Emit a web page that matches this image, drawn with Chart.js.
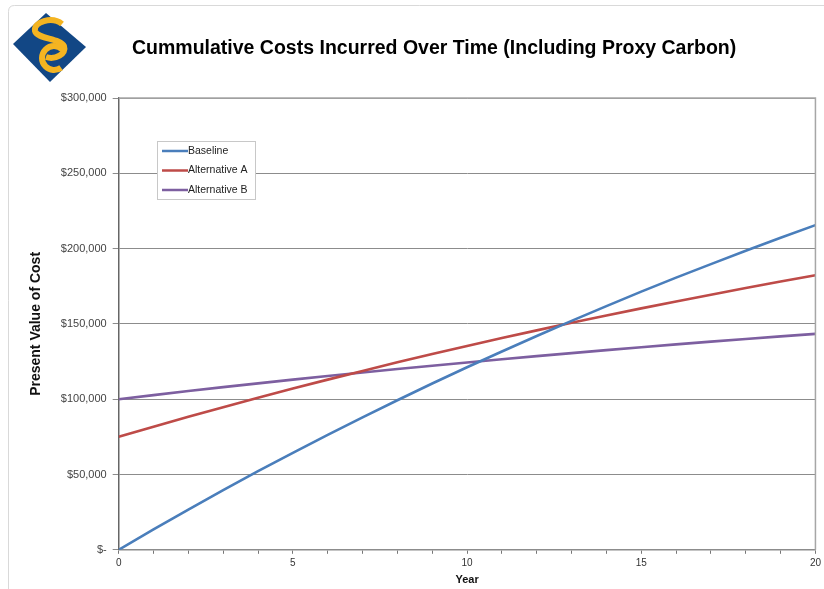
<!DOCTYPE html>
<html>
<head>
<meta charset="utf-8">
<script src="https://cdn.jsdelivr.net/npm/chart.js@4.4.1/dist/chart.umd.min.js"></script>
<style>
  html, body { margin: 0; padding: 0; background: #ffffff; }
  #wrap { width: 824px; height: 589px; position: relative; }
</style>
</head>
<body>
<div id="wrap"><canvas id="c" width="824" height="589"></canvas></div>
<script>
const titleText = 'Cummulative Costs Incurred Over Time (Including Proxy Carbon)';
const yTitle = 'Present Value of Cost';
const xTitle = 'Year';
const years = [0, 1, 2, 3, 4, 5, 6, 7, 8, 9, 10, 11, 12, 13, 14, 15, 16, 17, 18, 19, 20];
const baseline = [0, 13500, 26700, 39600, 52200, 64400, 76300, 87900, 99300, 110400, 121200, 131700, 142000, 152000, 161800, 171400, 180700, 189700, 198600, 207200, 215600];
const altA = [75000, 81700, 88300, 94700, 101000, 107100, 113000, 118800, 124500, 130000, 135300, 140600, 145700, 150700, 155600, 160300, 164900, 169400, 173800, 178100, 182300];
const altB = [100000, 102700, 105400, 108000, 110500, 113000, 115400, 117700, 120000, 122200, 124400, 126500, 128600, 130600, 132600, 134500, 136400, 138200, 140000, 141700, 143400];
const seriesNames = ['Baseline', 'Alternative A', 'Alternative B'];
const seriesColors = ['#4a7ebb', '#be4b48', '#7d5fa0'];
const yTickValues = [0, 50000, 100000, 150000, 200000, 250000, 300000];

const FONT = '"Liberation Sans", Arial, sans-serif';
const pts = arr => years.map((x, i) => ({ x: x, y: arr[i] }));

const decorPlugin = {
  id: 'decor',
  beforeDraw(chart) {
    const ctx = chart.ctx;
    ctx.save();
    ctx.fillStyle = '#ffffff';
    ctx.fillRect(0, 0, chart.width, chart.height);
    // outer border
    ctx.strokeStyle = '#d9d9d9';
    ctx.lineWidth = 1;
    ctx.beginPath();
    const x0 = 8.5, y0 = 5.5, x1 = 830, y1 = 600, r = 6;
    ctx.moveTo(x0 + r, y0);
    ctx.lineTo(x1, y0);
    ctx.moveTo(x0, y1);
    ctx.lineTo(x0, y0 + r);
    ctx.quadraticCurveTo(x0, y0, x0 + r, y0);
    ctx.stroke();
    // logo diamond
    ctx.fillStyle = '#124785';
    ctx.beginPath();
    ctx.moveTo(46, 13);
    ctx.lineTo(86, 47);
    ctx.lineTo(50, 82);
    ctx.lineTo(13, 44);
    ctx.closePath();
    ctx.fill();
    ctx.strokeStyle = '#f4b421';
    ctx.lineCap = 'butt';
    ctx.lineWidth = 6;
    // C (lower)
    ctx.beginPath();
    ctx.arc(54, 58, 12, -0.25 * Math.PI, 0.3 * Math.PI, true);
    ctx.stroke();
    // S (upper)
    ctx.beginPath();
    ctx.moveTo(62, 24);
    ctx.bezierCurveTo(52, 16, 33, 22, 35, 31);
    ctx.bezierCurveTo(37, 39, 60, 38, 64, 46);
    ctx.bezierCurveTo(67, 54, 55, 60, 46, 57);
    ctx.stroke();
    // title
    ctx.fillStyle = '#000000';
    ctx.font = 'bold 19.5px ' + FONT;
    ctx.textAlign = 'left';
    ctx.textBaseline = 'alphabetic';
    ctx.fillText(titleText, 132, 54);
    ctx.restore();
  },
  afterDatasetsDraw(chart) {
    const ctx = chart.ctx;
    const a = chart.chartArea;
    ctx.save();
    // plot area border top/right
    ctx.strokeStyle = '#a6a6a6';
    ctx.lineWidth = 1.5;
    ctx.beginPath();
    ctx.moveTo(a.left, a.top);
    ctx.lineTo(a.right, a.top);
    ctx.lineTo(a.right, a.bottom);
    ctx.stroke();
    // legend
    const lx = 157, ly = 141, lw = 98, lh = 58;
    ctx.fillStyle = '#ffffff';
    ctx.fillRect(lx, ly, lw, lh);
    ctx.strokeStyle = '#c8c8c8';
    ctx.lineWidth = 1;
    ctx.strokeRect(lx + 0.5, ly + 0.5, lw, lh);
    ctx.font = '10.5px ' + FONT;
    ctx.textBaseline = 'middle';
    ctx.textAlign = 'left';
    chart.data.datasets.forEach((ds, i) => {
      const yy = ly + 10 + i * 19.5;
      ctx.strokeStyle = ds.borderColor;
      ctx.lineWidth = 2.5;
      ctx.beginPath();
      ctx.moveTo(lx + 5, yy);
      ctx.lineTo(lx + 31, yy);
      ctx.stroke();
      ctx.fillStyle = '#222222';
      ctx.fillText(ds.label, lx + 31, yy);
    });
    ctx.restore();
  }
};

new Chart(document.getElementById('c'), {
  type: 'line',
  data: {
    datasets: [
      { label: seriesNames[0], data: pts(baseline), borderColor: seriesColors[0], backgroundColor: seriesColors[0], borderWidth: 2.6, pointRadius: 0, tension: 0 },
      { label: seriesNames[1], data: pts(altA), borderColor: seriesColors[1], backgroundColor: seriesColors[1], borderWidth: 2.6, pointRadius: 0, tension: 0 },
      { label: seriesNames[2], data: pts(altB), borderColor: seriesColors[2], backgroundColor: seriesColors[2], borderWidth: 2.6, pointRadius: 0, tension: 0 }
    ]
  },
  options: {
    responsive: false,
    animation: false,
    layout: { padding: { top: 98, left: 28, right: 6, bottom: 2 } },
    plugins: { legend: { display: false }, title: { display: false }, tooltip: { enabled: false } },
    scales: {
      x: {
        type: 'linear', min: 0, max: 20,
        ticks: {
          stepSize: 1, autoSkip: false, maxRotation: 0,
          color: '#333333', font: { size: 10, family: FONT },
          padding: 3,
          callback: v => (v % 5 === 0 ? String(v) : '')
        },
        grid: { drawOnChartArea: false, drawTicks: true, tickLength: 4, color: '#777777' },
        border: { display: true, color: '#8c8c8c', width: 1.5 },
        title: { display: true, text: xTitle, color: '#111111', font: { size: 11, weight: 'bold', family: FONT }, padding: { top: 2, bottom: 0 } }
      },
      y: {
        type: 'linear', min: 0, max: 300000,
        afterBuildTicks: scale => { scale.ticks = yTickValues.map(v => ({ value: v })); },
        ticks: {
          color: '#444444', font: { size: 11, family: FONT },
          padding: 6,
          callback: v => (v === 0 ? '$-' : '$' + Number(v).toLocaleString('en-US'))
        },
        grid: { color: '#8c8c8c', lineWidth: 1, tickLength: 6 },
        border: { display: true, color: '#666666', width: 1.5 },
        title: { display: true, text: yTitle, color: '#111111', font: { size: 14, weight: 'bold', family: FONT }, padding: { top: 0, bottom: 10 } }
      }
    }
  },
  plugins: [decorPlugin]
});
</script>
</body>
</html>
